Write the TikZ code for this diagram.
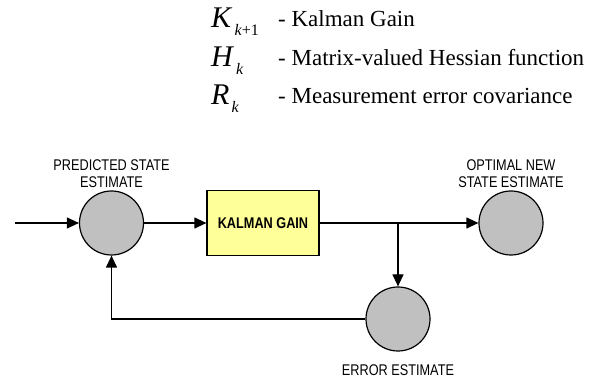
\documentclass[tikz,border=0pt]{standalone}
\usepackage{fontspec}
\setmainfont{Liberation Serif}
\newfontfamily\narrowsans[FakeStretch=0.82]{Liberation Sans}
\usetikzlibrary{positioning,arrows.meta}

\definecolor{gainyellow}{HTML}{FFFF99}
\definecolor{estgray}{HTML}{C0C0C0}
\newcommand{\symsub}[2]{{\fontsize{30}{30}\selectfont\textit{#1}}\kern2pt\raisebox{-8pt}{\fontsize{16}{16}\selectfont #2}}

\begin{document}
\begin{tikzpicture}[x=1pt, y=-1pt,
    est/.style={circle, draw, line width=1.2pt, fill=estgray, minimum size=64pt, inner sep=0pt},
    gainbox/.style={draw, line width=1.2pt, fill=gainyellow, minimum width=112pt, minimum height=65pt,
      font=\narrowsans\bfseries\fontsize{15.5}{17}\selectfont},
    lbl/.style={align=center, inner sep=0pt, font=\narrowsans\fontsize{15.5}{17}\selectfont},
    sym/.style={anchor=base west, inner sep=0pt, font=\fontsize{23}{27}\selectfont},
    conn/.style={line width=1.2pt, -{Triangle[length=12pt,width=11pt]}}]
    \useasboundingbox (0,0) rectangle (595,382);
    % legend
    \node [sym] (ksym) at (211,28) {\symsub{K}{\textit{k}+1}};
    \node [sym] (hsym) at (211,67) {\symsub{H}{\textit{k}}};
    \node [sym] (rsym) at (211,105) {\symsub{R}{\textit{k}}};
    \node [sym] (kdesc) at (278,27) {- Kalman Gain};
    \node [sym] (hdesc) at (278,66) {- Matrix-valued Hessian function};
    \node [sym] (rdesc) at (278,104) {- Measurement error covariance};
    % loop
    \node [est] (pred) at (111.5,223) {};
    \node [gainbox] (gain) at (263,223) {KALMAN GAIN};
    \node [est] (opt) at (511,223) {};
    \node [est] (err) at (398,319) {};
    \node [lbl, above=3pt of pred] (predlbl) {PREDICTED STATE\\ESTIMATE};
    \node [lbl, above=3pt of opt] (optlbl) {OPTIMAL NEW\\STATE ESTIMATE};
    \node [lbl, below=13pt of err] (errlbl) {ERROR ESTIMATE};
    \coordinate (in) at (15,223);
    \coordinate (split) at (398,223);
    \draw [conn] (in) -- (pred);
    \draw [conn] (pred) -- (gain);
    \draw [line width=1.2pt] (gain) -- (split);
    \draw [conn] (split) -- (opt);
    \draw [conn] (split) -- (err);
    \draw [conn] (err) -| (pred);
\end{tikzpicture}
\end{document}
